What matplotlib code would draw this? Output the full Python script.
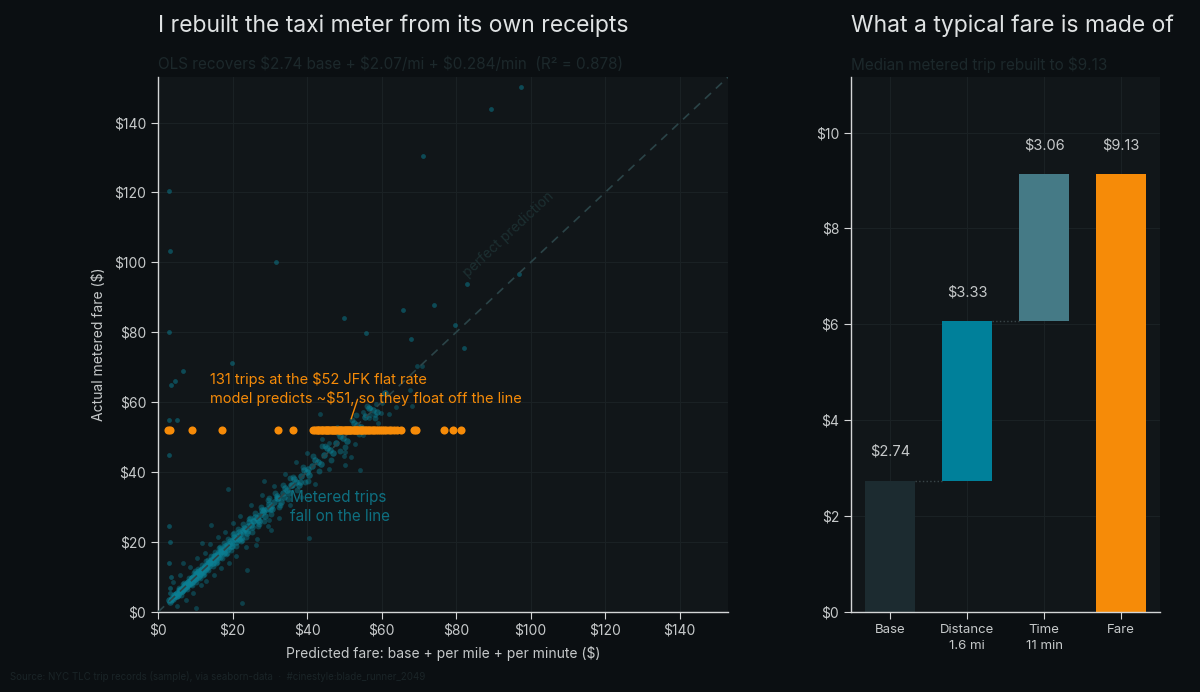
import matplotlib
matplotlib.use("Agg")
import matplotlib.pyplot as plt
from matplotlib.ticker import FuncFormatter, MultipleLocator

# colours
BG = "#0b0f12"
PANEL = "#111619"
GRID = "#1a2124"
TEAL = "#0b7f93"
ORANGE = "#f68b08"
TXT = "#c6c9ca"
DIM = "#1c282b"

# metered trips: tight core along the diagonal
core_pred = [3.2, 3.8, 4.1, 4.5, 4.9, 5.2, 5.6, 5.9, 6.3, 6.6, 7.0, 7.3, 7.7, 8.0, 8.4,
             8.8, 9.1, 9.5, 9.9, 10.2, 10.6, 11.0, 11.3, 11.7, 12.1, 12.5, 12.9, 13.3,
             13.8, 14.2, 14.7, 15.1, 15.6, 16.0, 16.5, 17.0, 17.6, 18.1, 18.7, 19.2, 19.8,
             20.4, 21.0, 21.7, 22.3, 23.0, 23.8, 24.5, 25.3, 26.1, 27.0, 27.9, 28.8, 29.7,
             30.7, 31.8, 32.9, 34.0, 35.2, 36.5, 37.8, 39.2, 40.6, 42.1, 43.7, 45.3, 47.0,
             48.8, 50.6, 52.5, 54.5, 56.6, 58.8, 61.0,
             2.9, 3.5, 4.3, 4.7, 5.4, 5.8, 6.1, 6.8, 7.2, 7.5, 7.9, 8.2, 8.6, 9.0, 9.3,
             9.7, 10.4, 10.8, 11.2, 11.5, 12.3, 12.7, 13.1, 13.6, 14.0, 14.5, 14.9, 15.4,
             15.8, 16.3, 16.8, 17.3, 17.9, 18.4, 19.0, 19.5, 20.1, 20.8, 21.4, 22.0, 22.7,
             23.4, 24.1, 24.9, 25.7, 26.6, 27.4, 28.3, 29.2, 30.2, 31.2, 32.3, 33.5, 34.6,
             35.9, 37.1, 38.5, 39.9, 41.4, 42.9, 44.5, 46.2, 47.9, 49.7, 51.5, 53.5, 55.5,
             57.7,
             4.4, 5.1, 5.7, 6.4, 6.9, 7.6, 8.1, 8.7, 9.2, 9.8, 10.3, 10.9, 11.4, 11.9, 12.6,
             13.2, 13.9, 14.6, 15.3, 16.1, 16.9, 17.8, 18.6, 19.6, 20.6, 21.6, 22.8, 24.0,
             25.4, 26.9, 28.5, 30.1, 31.9, 33.7, 35.7, 38.0, 40.3]
core_actual = [3.0, 4.0, 3.7, 4.8, 4.5, 5.5, 5.3, 6.2, 6.0, 7.0, 6.5, 7.8, 7.4, 8.5, 8.0,
               9.3, 8.7, 10.1, 9.4, 10.8, 10.1, 11.6, 10.8, 12.3, 11.5, 13.2, 12.3, 14.0,
               13.1, 15.0, 14.0, 15.9, 14.8, 16.9, 15.8, 17.9, 16.8, 19.0, 17.9, 20.2, 18.9,
               21.4, 20.0, 22.8, 21.3, 24.1, 22.7, 25.7, 24.2, 27.3, 25.9, 29.1, 27.6, 31.0,
               29.5, 33.1, 31.6, 35.4, 33.9, 37.9, 36.4, 40.6, 39.2, 43.6, 42.2, 46.9, 45.5,
               50.4, 49.0, 54.1, 52.9, 58.3, 57.1, 62.6,
               3.3, 3.4, 4.2, 5.1, 5.0, 5.9, 6.6, 6.7, 7.1, 8.1, 7.7, 8.3, 8.9, 9.6, 9.0,
               9.8, 10.5, 11.3, 11.1, 11.9, 12.6, 12.4, 13.5, 13.9, 14.3, 14.9, 15.2, 15.6,
               16.2, 16.5, 17.2, 17.4, 18.3, 18.6, 19.4, 19.6, 20.6, 21.0, 21.6, 22.4, 22.9,
               23.6, 24.5, 25.0, 26.0, 26.8, 27.8, 28.5, 29.6, 30.4, 31.6, 32.5, 33.9, 34.8,
               36.3, 37.3, 38.9, 40.1, 41.8, 43.0, 44.9, 46.4, 48.3, 49.9, 51.8, 53.6, 55.9,
               57.8,
               4.9, 4.6, 6.3, 6.0, 7.5, 7.2, 8.6, 8.2, 9.7, 9.4, 10.9, 10.4, 11.8, 11.5, 13.0,
               12.8, 14.4, 14.1, 15.9, 15.6, 17.5, 17.2, 19.2, 19.0, 21.2, 20.9, 23.4, 23.1,
               26.1, 26.2, 29.2, 29.5, 32.6, 33.0, 36.4, 37.2, 41.0]

# metered trips: the wider ribbon around the core
ribbon_pred = [5.5, 6.2, 7.1, 7.8, 8.3, 9.0, 9.6, 10.1, 10.7, 11.3, 11.8, 12.4, 13.0, 13.5,
               14.1, 14.8, 15.2, 15.9, 16.4, 17.1, 17.7, 18.3, 18.9, 19.6, 20.2, 20.9, 21.5,
               22.2, 22.9, 23.6, 24.3, 25.1, 25.9, 26.8, 27.6, 28.5, 29.4, 30.4, 31.4, 32.5,
               33.6, 34.8, 36.1, 37.4, 38.8, 40.2, 41.7, 43.2, 44.8, 46.5, 48.3, 50.2, 52.1,
               54.0, 56.1, 58.2,
               6.7, 8.9, 10.0, 12.0, 13.4, 15.6, 16.7, 18.5, 20.5, 22.5, 24.7, 27.2, 29.9,
               32.8, 35.4, 39.5, 44.0, 48.9, 53.1]
ribbon_actual = [6.8, 5.0, 8.4, 6.5, 9.8, 7.7, 11.1, 8.7, 12.3, 9.8, 13.5, 11.0, 14.6, 12.1,
                 15.9, 13.2, 17.1, 14.2, 18.3, 15.5, 19.6, 16.6, 20.9, 17.8, 22.3, 19.0, 23.8,
                 20.2, 25.1, 21.4, 26.6, 22.8, 28.2, 24.5, 30.0, 26.0, 32.0, 27.9, 34.0, 30.1,
                 36.2, 32.3, 38.7, 34.8, 41.4, 37.4, 44.5, 40.4, 47.6, 43.6, 51.2, 47.1, 55.0,
                 51.0, 59.0, 55.6,
                 7.9, 7.9, 11.6, 10.6, 15.0, 14.0, 18.6, 17.0, 22.6, 20.6, 27.0, 25.3, 32.5,
                 30.5, 38.4, 37.1, 47.4, 46.1, 56.3]

# metered trips: looser spread around the line
spread_pred = [4.0, 5.0, 6.0, 7.5, 8.5, 9.5, 10.5, 11.5, 12.5, 13.0, 14.0, 15.0, 16.0, 17.0,
               18.0, 19.0, 20.0, 21.0, 22.0, 23.5, 25.0, 26.5, 28.0, 29.5, 31.0, 32.5, 34.0,
               35.5, 37.0, 38.5, 40.0, 42.0, 44.0, 46.0, 48.0, 50.0, 53.0, 55.0, 62.0, 64.0,
               18.7, 14.3, 11.8, 22.6, 24.0, 28.5, 40.5, 30.3, 29.8, 26.2, 10.3, 50.1, 54.2,
               51.9, 50.1, 43.6, 46.0, 56.8, 57.0, 58.6, 59.8, 58.2, 55.5, 54.9, 56.6, 59.1,
               60.0, 68.3, 67.6, 69.6, 70.9, 6.6]
spread_actual = [8.5, 1.8, 10.5, 3.5, 13.0, 5.5, 15.5, 7.8, 17.0, 9.0, 19.5, 10.5, 21.5, 12.5,
                 23.0, 14.0, 25.5, 16.0, 27.5, 18.5, 30.5, 21.0, 33.5, 24.5, 36.0, 27.0, 39.5,
                 30.5, 43.0, 33.0, 45.5, 36.5, 49.5, 41.0, 53.0, 44.5, 48.0, 50.5, 56.5, 58.5,
                 35.2, 24.9, 19.7, 2.5, 12.0, 37.5, 21.1, 23.5, 26.4, 19.2, 1.1, 42.1, 40.5,
                 44.2, 45.9, 56.7, 48.3, 56.4, 58.4, 59.6, 57.0, 56.4, 56.4, 57.1, 55.5, 54.2,
                 59.8, 58.8, 63.6, 70.3, 70.3, 14.0]

# metered trips: far outliers
outlier_pred = [97.5, 89.3, 71.1, 3.0, 3.3, 31.7, 82.9, 97.0, 50.0, 65.8, 74.1, 55.9, 67.9,
                79.8, 82.2, 3.0, 19.9, 6.8, 4.6, 3.5, 3.0, 5.2, 3.0, 3.0, 3.3, 3.0, 3.4,
                3.1, 3.2]
outlier_actual = [150.3, 143.8, 130.3, 120.3, 103.2, 100.2, 93.7, 96.8, 84.2, 86.3, 87.7, 79.7,
                  78.1, 82.0, 75.6, 80.1, 71.3, 69.0, 66.0, 65.0, 55.0, 55.0, 45.0, 24.6, 19.9,
                  14.0, 10.1, 7.0, 5.5]

# JFK flat-rate trips, all charged $52
jfk_fare = 52
jfk_pred = [2.6, 3.3, 9.1, 17.2, 32.3, 36.1,
            41.7, 42.1, 42.6, 43.0, 43.3, 43.7, 44.0, 44.4, 44.7, 45.0, 45.4, 45.7, 46.0,
            46.3, 46.6, 47.0, 47.3, 47.6, 47.9, 48.2, 48.5, 48.9, 49.2, 49.5, 49.8, 50.1,
            50.4, 50.7, 51.0, 51.3, 51.6, 51.9, 52.2, 52.5, 52.8, 53.1, 53.4, 53.8, 54.1,
            54.4, 54.8, 55.1, 55.5, 55.9, 56.3, 56.7, 57.1, 57.6, 58.0, 58.5, 59.0, 59.5,
            60.1, 60.7, 61.3, 61.9, 62.6, 63.3, 64.2, 65.3,
            68.6, 69.3, 76.8, 79.3, 81.2]

# typical fare breakdown
part_names = ["Base", "Distance\n1.6 mi", "Time\n11 min", "Fare"]
part_values = [2.74, 3.33, 3.06]
fare_total = 9.13
part_colors = ["#1c2b30", "#00809a", "#457a86", ORANGE]

plt.rcParams["font.family"] = ["Inter", "DejaVu Sans"]

fig = plt.figure(figsize=(12, 6.92), dpi=100, facecolor=BG)
ax = fig.add_axes([0.1317, 0.1156, 0.475, 0.773])
bx = fig.add_axes([0.7092, 0.1156, 0.2575, 0.773])

money = FuncFormatter(lambda v, p: f"${v:.0f}")

for a in (ax, bx):
    a.set_facecolor(PANEL)
    for s in ("top", "right"):
        a.spines[s].set_visible(False)
    for s in ("left", "bottom"):
        a.spines[s].set_color("#d4d6d7")
        a.spines[s].set_linewidth(1.0)
    a.tick_params(colors="#d4d6d7", labelcolor=TXT, labelsize=10, length=5)
    a.grid(True, color=GRID, lw=0.8)
    a.set_axisbelow(True)

# ---- left: predicted vs actual
lim = 153
ax.set_xlim(0, lim)
ax.set_ylim(0, lim)
ax.xaxis.set_major_locator(MultipleLocator(20))
ax.yaxis.set_major_locator(MultipleLocator(20))
ax.xaxis.set_major_formatter(money)
ax.yaxis.set_major_formatter(money)

ax.plot([0, lim], [0, lim], ls=(0, (5, 4)), color="#2b4448", lw=1.2, zorder=3)
ax.text(94, 108, "perfect prediction", rotation=43, color="#1c2f31", fontsize=10,
        ha="center", va="center")

ax.scatter(core_pred, core_actual, s=22, color=TEAL, alpha=0.55, lw=0, zorder=2)
ax.scatter(ribbon_pred, ribbon_actual, s=18, color=TEAL, alpha=0.45, lw=0, zorder=2)
ax.scatter(spread_pred, spread_actual, s=12, color=TEAL, alpha=0.4, lw=0, zorder=2)
ax.scatter(outlier_pred, outlier_actual, s=12, color=TEAL, alpha=0.5, lw=0, zorder=2)
ax.scatter(jfk_pred, [jfk_fare] * len(jfk_pred), s=34, color=ORANGE, lw=0, zorder=4)

ax.text(14, 63.7, "131 trips at the $52 JFK flat rate\nmodel predicts ~$51, so they float off the line",
        color=ORANGE, fontsize=10.5, ha="left", va="center", linespacing=1.35)
ax.annotate("", xy=(51.6, 54.5), xytext=(53.8, 61.6),
            arrowprops=dict(arrowstyle="-", color=ORANGE, lw=1.0))
ax.text(35.5, 30, "Metered trips\nfall on the line", color="#0e6f80", fontsize=11,
        ha="left", va="center", linespacing=1.3)

ax.set_xlabel("Predicted fare: base + per mile + per minute ($)", color=TXT, fontsize=10, labelpad=6)
ax.set_ylabel("Actual metered fare ($)", color=TXT, fontsize=10, labelpad=6)

# ---- right: waterfall
bottoms = [0, part_values[0], part_values[0] + part_values[1], 0]
heights = part_values + [fare_total]
xs = range(len(part_names))
bx.bar(xs, heights, bottom=bottoms, width=0.65, color=part_colors, zorder=2)
for i in range(2):
    lvl = bottoms[i] + heights[i]
    bx.plot([i + 0.325, i + 1 - 0.325], [lvl, lvl], ls=":", color="#3a4649", lw=1, zorder=1)
for i, h in enumerate(heights):
    bx.text(i, bottoms[i] + h + 0.6, f"${h:.2f}", color=TXT, fontsize=10.5,
            ha="center", va="center")
bx.set_ylim(0, fare_total * 1.222)
bx.yaxis.set_major_locator(MultipleLocator(2))
bx.yaxis.set_major_formatter(money)
bx.set_xticks(list(xs))
bx.set_xticklabels(part_names, fontsize=9.5, linespacing=1.5)

# ---- titles and footer
fig.text(0.1317, 0.963, "I rebuilt the taxi meter from its own receipts", color="#dfe2e3",
         fontsize=16.5, ha="left", va="center")
fig.text(0.1317, 0.907, "OLS recovers $2.74 base + $2.07/mi + $0.284/min  (R\u00b2 = 0.878)",
         color=DIM, fontsize=11, ha="left", va="center")
fig.text(0.7092, 0.963, "What a typical fare is made of", color="#dfe2e3",
         fontsize=16.5, ha="left", va="center")
fig.text(0.7092, 0.907, "Median metered trip rebuilt to $9.13", color=DIM, fontsize=11,
         ha="left", va="center")
fig.text(0.008, 0.022, "Source: NYC TLC trip records (sample), via seaborn-data  \u00b7  #cinestyle:blade_runner_2049",
         color="#1a2427", fontsize=7, ha="left", va="center")

fig.savefig("out.png", dpi=100, facecolor=BG)
